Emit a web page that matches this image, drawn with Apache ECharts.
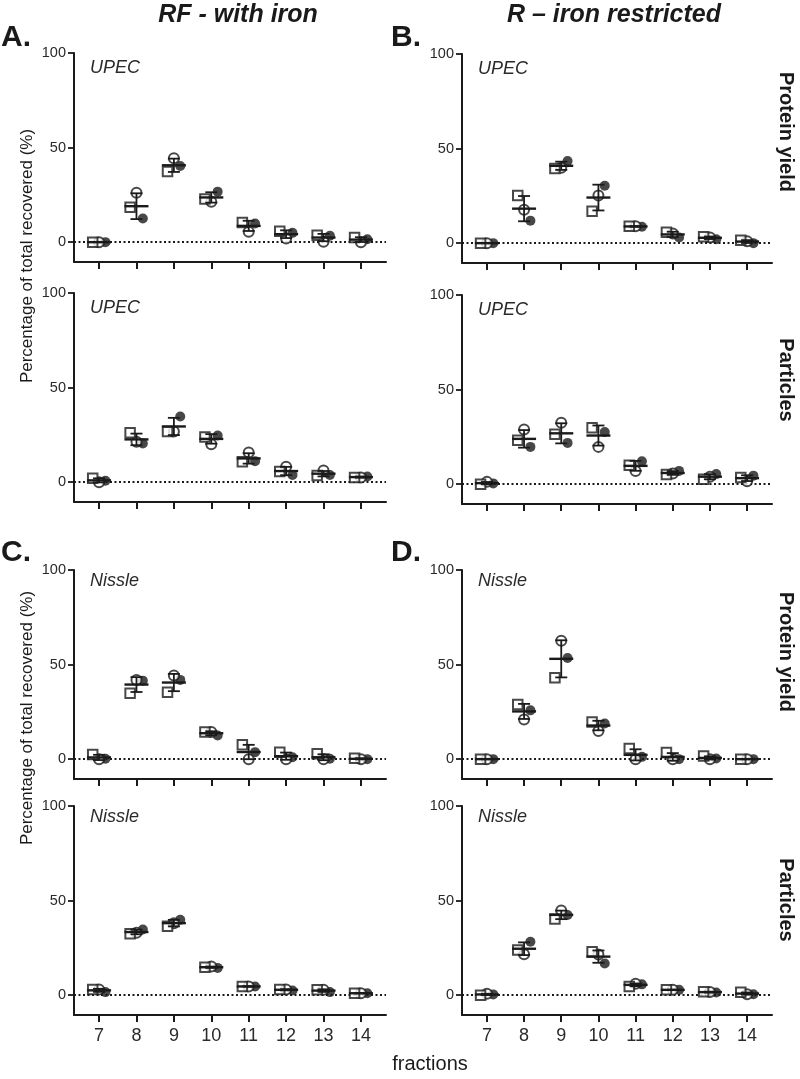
<!DOCTYPE html>
<html>
<head>
<meta charset="utf-8">
<script src="https://cdn.jsdelivr.net/npm/echarts@6/dist/echarts.min.js"></script>
<style>
  html, body { margin: 0; padding: 0; background: #fff; }
  #chart { width: 800px; height: 1079px; }
</style>
</head>
<body>
<div id="chart"></div>
<script>
// fractions on the x axis
var fractions = [7, 8, 9, 10, 11, 12, 13, 14];
var yTicks = [0, 50, 100];

// A - UPEC, with iron, protein yield
var aYieldFilled = [0, 12.5, 40.3, 26.7, 9.9, 4.9, 3.4, 1.5];
var aYieldOpen = [0, 26.1, 44.3, 21.4, 5.5, 1.9, 0.2, 0];
var aYieldSquare = [0, 18.4, 37.3, 22.8, 10.4, 5.8, 3.7, 2.5];
// A - UPEC, with iron, particles
var aPartFilled = [0.7, 20.4, 34.7, 24.7, 11.1, 3.8, 3.8, 3];
var aPartOpen = [0, 21.3, 26.8, 20, 15.7, 8.2, 6.1, 2.5];
var aPartSquare = [2.1, 26.1, 26.8, 23.9, 10.8, 5.6, 3.5, 2.5];
// B - UPEC, iron restricted, protein yield
var bYieldFilled = [0, 11.9, 43.4, 30.3, 8.7, 3, 2.1, 0];
var bYieldOpen = [0, 17.6, 39.9, 25.2, 8.9, 5.1, 3, 1];
var bYieldSquare = [0, 25.2, 39.4, 16.8, 8.9, 5.7, 3.4, 1.5];
// B - UPEC, iron restricted, particles
var bPartFilled = [0.4, 19.7, 21.8, 27.6, 12.1, 7, 5.3, 4.5];
var bPartOpen = [1.2, 28.9, 32.4, 19.7, 6.9, 5.6, 3.9, 1.5];
var bPartSquare = [0, 23.2, 26.4, 29.8, 10, 5.1, 2.6, 3.5];
// C - Nissle, with iron, protein yield
var cYieldFilled = [0.2, 41.5, 41.9, 12.5, 3.7, 1, 0.2, 0];
var cYieldOpen = [0, 41.9, 44.2, 14.3, 0, 0, 0, 0];
var cYieldSquare = [2.5, 34.9, 35.4, 14.3, 7.6, 3.7, 2.8, 0.5];
// C - Nissle, with iron, particles
var cPartFilled = [1.6, 34.7, 39.8, 14.4, 4.6, 2.5, 1.6, 1];
var cPartOpen = [3, 33, 38, 15.1, 4.6, 3, 2.8, 1];
var cPartSquare = [3, 32.4, 36.4, 14.8, 4.6, 3, 2.8, 1];
// D - Nissle, iron restricted, protein yield
var dYieldFilled = [0, 25.8, 53.5, 18.8, 1.2, 0, 0.3, 0];
var dYieldOpen = [0, 21, 62.6, 14.9, 0, 0, 0, 0];
var dYieldSquare = [0, 28.9, 43, 19.6, 5.6, 3.5, 1.6, 0];
// D - Nissle, iron restricted, particles
var dPartFilled = [0.4, 28.2, 42.4, 16.7, 5.7, 2.8, 1.4, 0.5];
var dPartOpen = [0.7, 21.6, 44.7, 21.5, 6, 2.8, 1.6, 0.5];
var dPartSquare = [0, 23.8, 40.2, 22.9, 4.6, 2.8, 1.8, 1.5];

var FONT = "'Liberation Sans', Arial, sans-serif";
var INK = '#1a1a1a';

var panels = [
  {left: 74, top: 53, vals: [aYieldFilled, aYieldOpen, aYieldSquare], tag: 'UPEC', labels: false},
  {left: 74, top: 293, vals: [aPartFilled, aPartOpen, aPartSquare], tag: 'UPEC', labels: false},
  {left: 462, top: 54, vals: [bYieldFilled, bYieldOpen, bYieldSquare], tag: 'UPEC', labels: false},
  {left: 462, top: 295, vals: [bPartFilled, bPartOpen, bPartSquare], tag: 'UPEC', labels: false},
  {left: 74, top: 570, vals: [cYieldFilled, cYieldOpen, cYieldSquare], tag: 'Nissle', labels: false},
  {left: 74, top: 806, vals: [cPartFilled, cPartOpen, cPartSquare], tag: 'Nissle', labels: true},
  {left: 462, top: 570, vals: [dYieldFilled, dYieldOpen, dYieldSquare], tag: 'Nissle', labels: false},
  {left: 462, top: 806, vals: [dPartFilled, dPartOpen, dPartSquare], tag: 'Nissle', labels: true}
];

var grids = [], xAxes = [], yAxes = [], series = [], graphics = [];

function meanSd(a, b, c) {
  var m = (a + b + c) / 3;
  var v = ((a - m) * (a - m) + (b - m) * (b - m) + (c - m) * (c - m)) / 2;
  return [m, Math.sqrt(v)];
}

function renderBar(params, api) {
  var x = api.value(0), m = api.value(1), s = api.value(2);
  var c = api.coord([x, m]);
  var t = api.coord([x, m + s]);
  var b = api.coord([x, m - s]);
  var thin = {stroke: INK, lineWidth: 1.8};
  return {
    type: 'group',
    children: [
      {type: 'line', shape: {x1: c[0] - 12, y1: c[1], x2: c[0] + 12, y2: c[1]}, style: {stroke: INK, lineWidth: 2.4}},
      {type: 'line', shape: {x1: t[0], y1: t[1], x2: b[0], y2: b[1]}, style: thin},
      {type: 'line', shape: {x1: t[0] - 6, y1: t[1], x2: t[0] + 6, y2: t[1]}, style: thin},
      {type: 'line', shape: {x1: b[0] - 6, y1: b[1], x2: b[0] + 6, y2: b[1]}, style: thin}
    ]
  };
}

// symbol kinds: filled circle, open circle, open square (small side-by-side spread)
var kinds = [
  {symbol: 'circle', dx: 0.17, size: 10, style: {color: INK}},
  {symbol: 'circle', dx: 0, size: 10, style: {color: '#fff', borderColor: INK, borderWidth: 2}},
  {symbol: 'rect', dx: -0.17, size: 9.5, style: {color: '#fff', borderColor: INK, borderWidth: 2}}
];

panels.forEach(function (p, i) {
  grids.push({left: p.left, top: p.top, width: p.left < 300 ? 312 : 310, height: 209});
  xAxes.push({
    type: 'value', gridIndex: i, min: 6.33, max: 14.67,
    splitLine: {show: false},
    axisLine: {show: true, onZero: false, lineStyle: {color: INK, width: 2}},
    axisTick: {show: true, length: 7, customValues: fractions, lineStyle: {color: INK, width: 2}},
    axisLabel: {show: p.labels, customValues: fractions, margin: 12, fontSize: 18, color: '#2a2a2a', fontFamily: FONT}
  });
  yAxes.push({
    type: 'value', gridIndex: i, min: -10.5, max: 100,
    splitLine: {show: false},
    axisLine: {show: true, onZero: false, lineStyle: {color: INK, width: 2}},
    axisTick: {show: true, length: 6, customValues: yTicks, lineStyle: {color: INK, width: 1.8}},
    axisLabel: {customValues: yTicks, margin: 8, fontSize: 14.5, color: '#2a2a2a', fontFamily: FONT}
  });

  kinds.forEach(function (k, j) {
    var s = {
      type: 'scatter', xAxisIndex: i, yAxisIndex: i,
      symbol: k.symbol, symbolSize: k.size, z: 2,
      itemStyle: k.style,
      data: fractions.map(function (f, n) { return [f + k.dx, p.vals[j][n]]; })
    };
    if (j === 0) {
      s.markLine = {
        silent: true, symbol: 'none', label: {show: false}, z: 1,
        lineStyle: {type: [2, 2.5], color: INK, width: 2},
        data: [{yAxis: 0}]
      };
    }
    series.push(s);
  });

  series.push({
    type: 'custom', xAxisIndex: i, yAxisIndex: i, z: 3,
    renderItem: renderBar,
    encode: {x: 0, y: 1},
    data: fractions.map(function (f, n) {
      var ms = meanSd(p.vals[0][n], p.vals[1][n], p.vals[2][n]);
      return [f, ms[0], ms[1]];
    })
  });

  graphics.push({
    type: 'text', left: p.left + 16, top: p.top + (p.tag === 'UPEC' ? 6 : 2),
    style: {text: p.tag, font: 'italic 18px ' + FONT, fill: '#2a2a2a'}
  });
});

function txt(text, x, y, font, rot) {
  return {
    type: 'text', x: x, y: y, rotation: rot || 0,
    style: {text: text, font: font, fill: INK, textAlign: 'center', textVerticalAlign: 'middle'}
  };
}

graphics.push(
  txt('RF - with iron', 238, 15, 'bold italic 25px ' + FONT),
  txt('R \u2013 iron restricted', 614, 15, 'bold italic 25px ' + FONT),
  txt('A.', 16, 38, 'bold 30px ' + FONT),
  txt('B.', 406, 38, 'bold 30px ' + FONT),
  txt('C.', 16, 553, 'bold 30px ' + FONT),
  txt('D.', 406, 553, 'bold 30px ' + FONT),
  txt('Percentage of total recovered (%)', 27, 256, '17px ' + FONT, Math.PI / 2),
  txt('Percentage of total recovered (%)', 27, 718, '17px ' + FONT, Math.PI / 2),
  txt('Protein yield', 786, 132, 'bold 20px ' + FONT, -Math.PI / 2),
  txt('Particles', 786, 380, 'bold 20px ' + FONT, -Math.PI / 2),
  txt('Protein yield', 786, 652, 'bold 20px ' + FONT, -Math.PI / 2),
  txt('Particles', 786, 900, 'bold 20px ' + FONT, -Math.PI / 2),
  txt('fractions', 430, 1064, '20px ' + FONT)
);

var myChart = echarts.init(document.getElementById('chart'));
var option = {
  animation: false,
  backgroundColor: '#fff',
  grid: grids,
  xAxis: xAxes,
  yAxis: yAxes,
  series: series,
  graphic: graphics
};
myChart.setOption(option);
window.addEventListener('resize', myChart.resize);
</script>
</body>
</html>
